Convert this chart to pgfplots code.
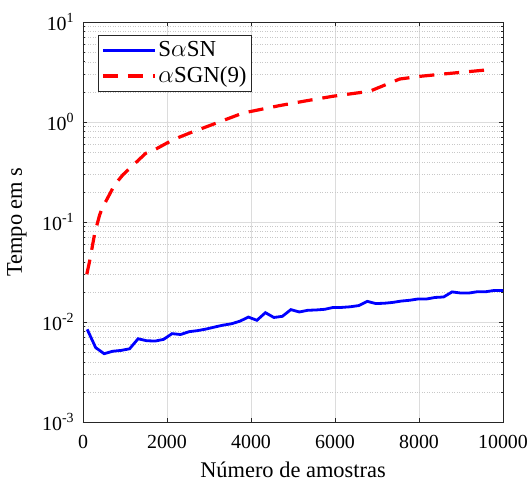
\documentclass[border=0pt]{standalone}
\usepackage{pgfplots}
\pgfplotsset{compat=1.18}
\usepackage{fontspec}
\setmainfont{Liberation Serif}
\definecolor{axgray}{HTML}{262626}
\definecolor{gridmaj}{HTML}{DCDCDC}
\definecolor{gridmin}{HTML}{C8C8C8}
\begin{document}
\fontsize{20}{24}\selectfont
\begin{tikzpicture}
\begin{axis}[
  scale only axis,
  width=420bp, height=400bp,
  xmin=0, xmax=10000,
  ymode=log, ymin=1e-3, ymax=10,
  xtick={0,2000,4000,6000,8000,10000},
  xticklabels={0,2000,4000,6000,8000,10000},
  ytick={1e-3,1e-2,1e-1,1,10},
  yticklabels={10\textsuperscript{-3},10\textsuperscript{-2},10\textsuperscript{-1},10\textsuperscript{0},10\textsuperscript{1}},
  scaled x ticks=false,
  tick align=inside,
  major tick length=4.2bp,
  minor tick length=2.5bp,
  tick style={axgray, line width=0.6bp},
  axis line style={axgray, line width=0.8bp},
  xmajorgrids, ymajorgrids, yminorgrids,
  major grid style={gridmaj, line width=0.6bp},
  minor grid style={gridmin, line width=0.5bp, dotted},
  xticklabel style={font=\fontsize{20}{24}\selectfont, yshift=-12bp, inner sep=1bp},
  yticklabel style={font=\fontsize{20}{24}\selectfont, xshift=-2bp},
  xlabel={Número de amostras},
  ylabel={Tempo em s},
  xlabel style={font=\fontsize{22.5}{26}\selectfont, at={(rel axis cs:0.5,0)}, anchor=base, yshift=-55bp, inner sep=0pt},
  ylabel style={font=\fontsize{22.5}{26}\selectfont},
  ylabel shift=2bp,
  legend style={at={(rel axis cs:0.0357,0.967)}, anchor=north west, draw=axgray, line width=0.6bp,
    font=\fontsize{23}{27}\selectfont, inner xsep=3bp, inner ysep=4bp, row sep=3bp, cells={anchor=west}},
  legend cell align=left,
  legend image code/.code={\draw[#1] (0bp,0bp) -- (52bp,0bp);},
]
\addplot[blue, line width=2.8bp] coordinates {
(100,0.00845) (302,0.00554) (504,0.00482) (706,0.00510) (908,0.00520)
(1110,0.00540) (1312,0.00680) (1514,0.00650) (1716,0.00645) (1918,0.00670)
(2120,0.00765) (2322,0.00750) (2524,0.00800) (2727,0.00820) (2929,0.00850)
(3131,0.00890) (3333,0.00930) (3535,0.00960) (3737,0.01020) (3939,0.01120)
(4141,0.01040) (4343,0.01240) (4545,0.01110) (4747,0.01140) (4949,0.01330)
(5151,0.01260) (5353,0.01310) (5555,0.01320) (5757,0.01340) (5959,0.01400)
(6161,0.01400) (6363,0.01420) (6565,0.01460) (6767,0.01610) (6969,0.01530)
(7171,0.01540) (7373,0.01570) (7576,0.01620) (7778,0.01650) (7980,0.01700)
(8182,0.01700) (8384,0.01760) (8586,0.01780) (8788,0.02000) (8990,0.01950)
(9192,0.01950) (9394,0.02010) (9596,0.02010) (9798,0.02070) (10000,0.02070)
};
\addlegendentry{S$\alpha$SN}
\addplot[red, line width=3.2bp, dash pattern=on 15bp off 10bp] coordinates {
(90,0.030) (160,0.041) (280,0.0776) (397,0.118) (460,0.138) (635,0.190)
(754,0.236) (952,0.297) (1190,0.369) (1490,0.485) (1706,0.528) (2000,0.617)
(2302,0.708) (2580,0.788) (2857,0.870) (3214,0.990) (3810,1.23) (4683,1.46)
(5317,1.63) (5952,1.81) (6825,2.03) (7540,2.69) (8016,2.86) (8650,3.04)
(9683,3.34) (9780,3.37)
};
\addlegendentry{$\alpha$SGN(9)}
\coordinate (sw) at (rel axis cs:0,0);
\coordinate (ne) at (rel axis cs:1,1);
\end{axis}
\path ([shift={(-83bp,-59bp)}]sw) rectangle ([shift={(28bp,22bp)}]ne);
\end{tikzpicture}
\end{document}
